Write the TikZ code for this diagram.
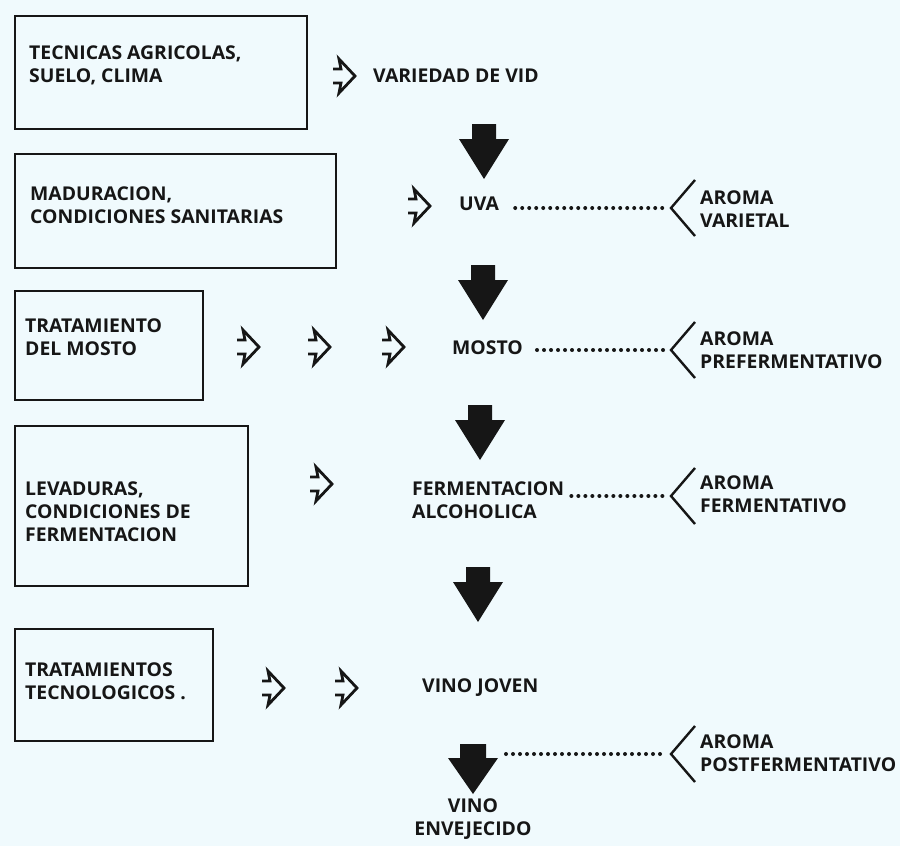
\documentclass[tikz,border=0pt]{standalone}
\usepackage{fontspec}
\setmainfont{Open Sans}[FakeStretch=1.02]
\definecolor{ink}{RGB}{22,22,22}
\definecolor{paper}{RGB}{240,250,253}
\newcommand{\lblfont}{\fontsize{19}{23}\selectfont\bfseries}
\tikzset{
  boxframe/.style={draw=ink, line width=2.4pt, minimum width=#1, inner sep=0pt, anchor=north west},
  lbl/.style={anchor=west, inner sep=0pt, align=left, font=\lblfont, text=ink},
  dotline/.style={draw=ink, line width=4pt, line cap=round, dash pattern=on 0pt off 7pt},
  brk/.style={draw=ink, line width=2.4pt, line join=miter},
  hollow/.pic={\draw[ink, line width=2.8pt, line join=miter, line cap=butt]
      (0,-7) -- (8,-7) -- (6,-17) -- (22,0) -- (6,17) -- (8,7) -- (0,7);},
  bigarrow/.pic={\fill[ink] (-12,0) -- (12,0) -- (12,15) -- (25,15) -- (0,55)
      -- (-25,15) -- (-12,15) -- cycle;},
  shortarrow/.pic={\fill[ink] (-13,0) -- (13,0) -- (13,14) -- (25,14) -- (0,50)
      -- (-25,14) -- (-13,14) -- cycle;}
}
\begin{document}
\begin{tikzpicture}[x=1pt,y=-1pt]
\useasboundingbox (0,0) rectangle (900,846);
\fill[paper] (0,0) rectangle (900,846);

% left boxes
\node[boxframe=292pt, minimum height=113pt] (b1) at (14,15) {};
\node[boxframe=321pt, minimum height=114pt] (b2) at (14,153) {};
\node[boxframe=188pt, minimum height=109pt] (b3) at (14,290) {};
\node[boxframe=233pt, minimum height=160pt] (b4) at (14,425) {};
\node[boxframe=198pt, minimum height=112pt] (b5) at (14,628) {};

\node[lbl] (t1) at (29,65) {TECNICAS AGRICOLAS,\\SUELO, CLIMA};
\node[lbl] (t2) at (30,205) {MADURACION,\\CONDICIONES SANITARIAS};
\node[lbl] (t3) at (25,337) {TRATAMIENTO\\DEL MOSTO};
\node[lbl] (t4) at (25,512) {LEVADURAS,\\CONDICIONES DE\\FERMENTACION};
\node[lbl] (t5) at (25,681) {TRATAMIENTOS\\TECNOLOGICOS\hspace{5pt}.};

% hollow arrows
\pic at (333,76) {hollow};
\pic at (408,206) {hollow};
\pic at (237,347) {hollow};
\pic at (308,347) {hollow};
\pic at (382,347) {hollow};
\pic at (310,484) {hollow};
\pic at (262,688) {hollow};
\pic at (335,688) {hollow};

% central column
\node[lbl] (vid) at (373,76) {VARIEDAD DE VID};
\node[lbl] (uva) at (459,204) {UVA};
\node[lbl] (mosto) at (452,348) {MOSTO};
\node[lbl] (ferm) at (412,500) {FERMENTACION\\ALCOHOLICA};
\node[lbl] (joven) at (422,688) {VINO JOVEN};
\node[lbl, anchor=center, align=center] (env) at (473,819) {VINO\\ENVEJECIDO};

% big arrows
\pic at (484,124) {bigarrow};
\pic at (483,265) {bigarrow};
\pic at (480,405) {bigarrow};
\pic at (478,567) {bigarrow};
\pic at (473,744) {shortarrow};

% aroma labels
\node[lbl] (a2) at (700,209) {AROMA\\VARIETAL};
\node[lbl] (a3) at (700,350) {AROMA\\PREFERMENTATIVO};
\node[lbl] (a4) at (700,494) {AROMA\\FERMENTATIVO};
\node[lbl] (a6) at (700,753) {AROMA\\POSTFERMENTATIVO};

% brackets
\coordinate (br2) at (671,208);
\coordinate (br3) at (671,350);
\coordinate (br4) at (671,496);
\coordinate (br6) at (671,754);
\foreach \b in {br2,br3,br4,br6}{
  \draw[brk] ([shift={(24,-28)}]\b) -- (\b) -- ([shift={(24,28)}]\b);
}

% dotted connectors
\coordinate (s6) at (506,754);
\draw[dotline] ([xshift=16pt]uva.east |- br2) -- ([xshift=-5pt]br2);
\draw[dotline] ([xshift=14pt]mosto.east |- br3) -- ([xshift=-5pt]br3);
\draw[dotline] ([xshift=7pt]ferm.east |- br4) -- ([xshift=-5pt]br4);
\draw[dotline] (s6) -- ([xshift=-5pt]br6);
\end{tikzpicture}
\end{document}
